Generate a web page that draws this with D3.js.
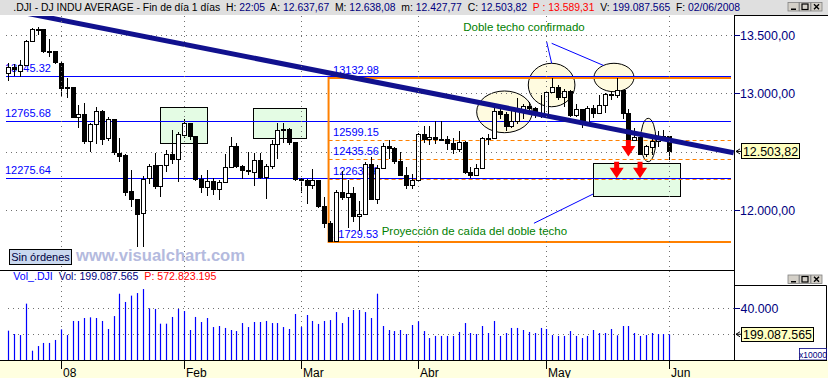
<!DOCTYPE html>
<html>
<head>
<meta charset="utf-8">
<title>.DJI - DJ INDU AVERAGE</title>
<script src="https://cdn.jsdelivr.net/npm/d3@7/dist/d3.min.js"></script>
<style>
body { margin: 0; background: #fff; }
svg { display: block; font-family: "Liberation Sans", Arial, sans-serif; }
</style>
</head>
<body>
<svg id="chart" width="828" height="378"></svg>
<script>
// Daily bars .DJI, 18/12/2007 .. 02/06/2008
var opens = [13172, 13226, 13195, 13240, 13450, 13549, 13550, 13360, 13366,
  13261, 13044, 13055, 12800, 12827, 12589, 12735, 12850, 12616, 12778, 12490, 12473, 12165, 12094, 11974, 12274, 12390, 12207, 12384, 12480, 12436,
  12644, 12743, 12635, 12265, 12200, 12247, 12182, 12240, 12373, 12552, 12377, 12348, 12330, 12427, 12284, 12381, 12570, 12684, 12694, 12582,
  12266, 12259, 12214, 12255, 12040, 11894, 11740, 12157, 12110, 12146, 11951, 11972, 12393, 12100, 12361, 12549, 12533, 12423, 12302, 12216,
  12263, 12654, 12609, 12626, 12609, 12612, 12576, 12527, 12582, 12325, 12302, 12362, 12619, 12620, 12849, 12825, 12720, 12763, 12849, 12892, 12872, 12831,
  12820, 13010, 13058, 12970, 13021, 12814, 12867, 12746, 12876, 12832, 12898, 12993, 12987, 13028, 12829, 12601, 12626, 12480, 12540, 12590, 12637,
  12637.67];
var highs = [13260, 13250, 13290, 13460, 13560, 13570, 13555, 13470, 13366,
  13275, 13130, 13055, 12900, 12920, 12750, 12880, 12855, 12800, 12780, 12619, 12480, 12345, 12100, 12290, 12400, 12493, 12390, 12520, 12687, 12670,
  12780, 12750, 12640, 12300, 12342, 12280, 12260, 12480, 12630, 12580, 12390, 12500, 12490, 12490, 12400, 12600, 12750, 12750, 12700, 12585,
  12280, 12265, 12350, 12260, 12110, 11910, 12170, 12340, 12260, 12200, 12080, 12410, 12460, 12390, 12580, 12600, 12540, 12500, 12370, 12310,
  12660, 12720, 12720, 12760, 12760, 12640, 12620, 12680, 12590, 12370, 12400, 12630, 12650, 12880, 12880, 12840, 12850, 12960, 12910, 12930, 12880, 12990,
  13020, 13135, 13070, 13040, 13030, 12910, 12870, 12890, 12900, 12990, 13000, 13010, 13136, 13030, 12870, 12700, 12640, 12560, 12630, 12680, 12690,
  12638.08];
var lows = [13110, 13150, 13140, 13240, 13440, 13500, 13350, 13310, 13250,
  12980, 12960, 12790, 12700, 12570, 12500, 12570, 12560, 12590, 12470, 12416, 12122, 12026, 11690, 11690, 12225, 12180, 12111, 12330, 12400, 12245,
  12620, 12600, 12250, 12150, 12120, 12130, 12085, 12235, 12370, 12360, 12270, 12300, 12210, 12270, 12100, 12350, 12440, 12580, 12560, 12250,
  12150, 12050, 12180, 12020, 11850, 11730, 11735, 12090, 11846, 11900, 11820, 11970, 12090, 12050, 12360, 12440, 12400, 12290, 12180, 12180,
  12262, 12580, 12560, 12570, 12600, 12520, 12480, 12500, 12310, 12280, 12290, 12360, 12560, 12620, 12780, 12680, 12700, 12740, 12780, 12850, 12790, 12790,
  12800, 13000, 12940, 12880, 12800, 12800, 12700, 12740, 12790, 12830, 12830, 12940, 12960, 12780, 12590, 12590, 12470, 12460, 12470, 12540, 12600,
  12427.77];
var closes = [13226, 13207, 13240, 13450, 13549, 13552, 13360, 13366, 13265,
  13044, 13057, 12800, 12827, 12589, 12735, 12853, 12606, 12778, 12501, 12466, 12159, 12099, 11971, 12270, 12379, 12207, 12384, 12480, 12443, 12650,
  12743, 12635, 12265, 12200, 12247, 12182, 12240, 12373, 12552, 12377, 12348, 12337, 12427, 12284, 12381, 12570, 12685, 12694, 12582, 12266,
  12259, 12214, 12255, 12040, 11894, 11740, 12157, 12110, 12146, 11951, 11972, 12393, 12100, 12361, 12549, 12533, 12423, 12302, 12216, 12263,
  12654, 12609, 12626, 12609, 12612, 12576, 12527, 12582, 12325, 12302, 12362, 12619, 12620, 12849, 12825, 12720, 12763, 12849, 12892, 12872, 12831, 12820,
  13010, 13058, 12970, 13021, 12814, 12867, 12746, 12876, 12832, 12898, 12993, 12987, 13028, 12829, 12601, 12626, 12480, 12548, 12590, 12637, 12638,
  12503.82];
// volume, x10000
var volumes = [22700, 20100, 19300, 43600, 7200, 10800, 13200, 13200, 15500,
  23700, 19300, 30200, 30200, 32500, 33000, 32500, 30200, 24000, 34000, 51300, 44900, 49800, 51800, 54900, 40000, 39500, 28100, 28100, 33300, 39500,
  37900, 23200, 33300, 29400, 32500, 25500, 26300, 24800, 23200, 22400, 28600, 25500, 29400, 29400, 30200, 28600, 28600, 25500, 24000, 35600,
  25500, 34800, 30200, 27900, 30200, 30900, 37100, 28600, 33300, 38700, 38700, 37100, 32500, 51300, 26300, 23200, 22400, 23200, 20100, 27100,
  29900, 22400, 17000, 18600, 18600, 18600, 18600, 21700, 28600, 20900, 20100, 26300, 20900, 30200, 18600, 20900, 24800, 24800, 23200, 21700, 20900, 24800,
  24000, 19300, 18600, 18600, 22400, 18600, 17000, 18600, 23200, 20900, 20900, 24000, 19100, 26300, 26300, 20900, 18600, 19300, 20900, 20100, 20100,
  19908.7565];

var monthIdx = [9, 30, 50, 70, 92, 113];
var monthLabels = ['08', 'Feb', 'Mar', 'Abr', 'May', 'Jun'];
var priceGrid = [12000, 12500, 13000, 13500];
var priceTicks = [12000, 13000, 13500];   // 12.500 sits under the last-price box
var volGrid = [20000, 40000];
var volTicks = [40000];

var levels = [13145.32, 12765.68, 12275.64];
var fibSolid = [13132.98, 11729.53];
var fibDashed = [12599.15, 12435.56, 12263.76];
var fibStart = 54.75;
var trend = [[0, 13717], [124, 12492]];
var boxes = [[25.93, 34.02, 12886, 12582], [41.88, 51.0, 12873, 12616], [100.0, 114.9, 12402, 12116]];
var ellipses = [[80.07, 89.57, 13021, 12664], [88.89, 96.87, 13258, 12886], [100.12, 106.96, 13258, 13015], [108.1, 110.7, 12787, 12416]];
var pointers = [[92.03, 13443, 92.89, 13258], [92.89, 13429, 101.78, 13239], [89.86, 11889, 100.0, 12140]];
var arrows = [[106, 12601], [104, 12416], [108, 12416]];
var notes = [['Doble techo confirmado', 77.78, 13532], ['Proyección de caída del doble techo', 63.83, 11791]];

var es = d3.formatLocale({decimal: ',', thousands: '.', grouping: [3], currency: ['', '']});
var fmt2 = es.format(',.2f'), fmt0 = es.format(',.0f');

var svg = d3.select('#chart');
var n = closes.length - 1;
var x = d3.scaleLinear().domain([0, 113]).range([8.3, 669.3]);
var y = d3.scaleLinear().domain([12000, 13500]).range([210.3, 35]);
var yv = d3.scaleLinear().domain([0, 40000]).range([360, 308.3]);
var px = function(v) { return Math.round(v) + 0.5; };

svg.append('rect').attr('width', 828).attr('height', 378).attr('fill', '#fff');

// header bar
svg.append('rect').attr('width', 828).attr('height', 15).attr('fill', '#dfdfdf');
var head = [
  ['.DJI - DJ INDU AVERAGE - Fin de día 1 días  H: ', '#000'], ['22:05', '#000080'],
  ['  A: ', '#000'], [fmt2(opens[n]), '#000080'],
  ['  M: ', '#000'], [fmt2(highs[n]), '#000080'],
  ['  m: ', '#000'], [fmt2(lows[n]), '#000080'],
  ['  C: ', '#000'], [fmt2(closes[n]), '#000080'],
  ['  ', '#000'], ['P : 13.589,31', '#ff0000'],
  ['  V: ', '#000'], [fmt0(volumes[n] * 10000), '#000080'],
  ['  F: ', '#000'], ['02/06/2008', '#000080']
];
function fitText(sel, parts, x0, base, width, size) {
  var t = sel.append('text').attr('y', base).attr('font-size', size).style('white-space', 'pre');
  parts.forEach(function(p) { t.append('tspan').attr('fill', p[1]).text(p[0]); });
  var w = t.node().getComputedTextLength();
  t.attr('transform', 'translate(' + x0 + ',0) scale(' + (width / w) + ',1)');
  return t;
}
fitText(svg, head, 13.3, 11.5, 727.4, 11);

function winButtons(y0) {
  var g = svg.append('g');
  [788, 799.5, 811].forEach(function(bx, k) {
    g.append('rect').attr('x', bx).attr('y', y0).attr('width', 11).attr('height', 8.5)
      .attr('fill', '#d4d0c8').attr('stroke', '#808080').attr('stroke-width', 0.8);
    if (k === 0) g.append('rect').attr('x', bx + 3).attr('y', y0 + 6).attr('width', 5).attr('height', 1.5).attr('fill', '#000');
    if (k === 1) g.append('rect').attr('x', bx + 2.5).attr('y', y0 + 1.5).attr('width', 6).attr('height', 5.5)
      .attr('fill', 'none').attr('stroke', '#000').attr('stroke-width', 1.2);
    if (k === 2) g.append('path').attr('d', 'M' + (bx + 3) + ',' + (y0 + 1.8) + 'L' + (bx + 8) + ',' + (y0 + 6.8) +
      'M' + (bx + 8) + ',' + (y0 + 1.8) + 'L' + (bx + 3) + ',' + (y0 + 6.8)).attr('stroke', '#000').attr('stroke-width', 1.4);
  });
}
winButtons(2.5);

// main price panel
svg.append('clipPath').attr('id', 'clipMain').append('rect')
  .attr('x', 0).attr('y', 16).attr('width', 734).attr('height', 254);
var main = svg.append('g').attr('clip-path', 'url(#clipMain)');

boxes.forEach(function(b) {
  main.append('rect').attr('x', px(x(b[0]))).attr('y', px(y(b[2])))
    .attr('width', Math.round(x(b[1]) - x(b[0]))).attr('height', Math.round(y(b[3]) - y(b[2])))
    .attr('fill', '#e4fce4').attr('stroke', '#000').attr('stroke-width', 1);
});
ellipses.forEach(function(e) {
  main.append('ellipse').attr('cx', (x(e[0]) + x(e[1])) / 2).attr('cy', (y(e[2]) + y(e[3])) / 2)
    .attr('rx', (x(e[1]) - x(e[0])) / 2).attr('ry', (y(e[3]) - y(e[2])) / 2)
    .attr('fill', '#fffbe0').attr('stroke', '#000').attr('stroke-width', 1);
});

// dotted grid
main.selectAll('.hg').data(priceGrid).enter().append('line')
  .attr('x1', 6).attr('x2', 734).attr('y1', function(d) { return px(y(d)); }).attr('y2', function(d) { return px(y(d)); })
  .attr('stroke', '#707070').attr('stroke-dasharray', '1,4');
svg.selectAll('.vg').data(monthIdx).enter().append('line')
  .attr('x1', function(d) { return px(x(d)); }).attr('x2', function(d) { return px(x(d)); })
  .attr('y1', 16).attr('y2', 360)
  .attr('stroke', '#707070').attr('stroke-dasharray', '1,4');

// horizontal levels
levels.forEach(function(v) {
  main.append('line').attr('x1', 6).attr('x2', 731).attr('y1', px(y(v))).attr('y2', px(y(v)))
    .attr('stroke', '#0000ff').attr('stroke-width', 1);
  main.append('text').attr('x', 5).attr('y', y(v) - 4).attr('font-size', 11).attr('fill', '#0000ff').text(v.toFixed(2));
});

// retracement tool
var fx = x(fibStart);
fibDashed.forEach(function(v) {
  main.append('line').attr('x1', fx).attr('x2', 731).attr('y1', px(y(v))).attr('y2', px(y(v)))
    .attr('stroke', '#ff8000').attr('stroke-dasharray', '4,3');
});
fibSolid.forEach(function(v) {
  main.append('line').attr('x1', fx).attr('x2', 731).attr('y1', y(v)).attr('y2', y(v))
    .attr('stroke', '#ff8000').attr('stroke-width', 2);
});
main.append('line').attr('x1', fx).attr('x2', fx).attr('y1', y(fibSolid[0]) - 1).attr('y2', y(fibSolid[1]) + 1)
  .attr('stroke', '#ff8000').attr('stroke-width', 2);
fibSolid.concat(fibDashed).forEach(function(v) {
  main.append('text').attr('x', fx + 4.5).attr('y', y(v) - 4).attr('font-size', 11).attr('fill', '#0000ff').text(v.toFixed(2));
});

// candles
var bars = d3.range(closes.length);
var cg = main.append('g').attr('shape-rendering', 'crispEdges');
bars.forEach(function(i) {
  var cx = Math.round(x(i));
  var top = y(Math.max(opens[i], closes[i])), bot = y(Math.min(opens[i], closes[i]));
  cg.append('line').attr('x1', cx + 0.5).attr('x2', cx + 0.5).attr('y1', Math.round(y(highs[i])))
    .attr('y2', Math.round(y(lows[i]))).attr('stroke', '#000');
  cg.append('rect').attr('x', cx - 1.5).attr('y', Math.round(top) + 0.5)
    .attr('width', 4).attr('height', Math.max(1, Math.round(bot) - Math.round(top)))
    .attr('fill', closes[i] >= opens[i] ? '#fff' : '#000').attr('stroke', '#000');
});

// trend line
main.append('line').attr('x1', x(trend[0][0])).attr('y1', y(trend[0][1]))
  .attr('x2', x(trend[1][0])).attr('y2', y(trend[1][1]))
  .attr('stroke', '#11118e').attr('stroke-width', 5);

pointers.forEach(function(p) {
  main.append('line').attr('x1', x(p[0])).attr('y1', y(p[1])).attr('x2', x(p[2])).attr('y2', y(p[3]))
    .attr('stroke', '#0000ff').attr('stroke-width', 1);
});
notes.forEach(function(t) {
  main.append('text').attr('x', x(t[1])).attr('y', y(t[2])).attr('font-size', 11.5).attr('fill', '#008000').text(t[0]);
});
arrows.forEach(function(a) {
  var ax = x(a[0]), ay = y(a[1]);
  main.append('path').attr('fill', '#ff0000')
    .attr('d', 'M' + (ax - 2.5) + ',' + ay + 'H' + (ax + 2.5) + 'V' + (ay + 6) + 'H' + (ax + 7) +
      'L' + ax + ',' + (ay + 16.5) + 'L' + (ax - 7) + ',' + (ay + 6) + 'H' + (ax - 2.5) + 'Z');
});

// watermark + order box
svg.append('text').attr('font-size', 16).attr('font-weight', 'bold').attr('fill', '#b4bade')
  .attr('x', 76).attr('y', 261).attr('textLength', 169).attr('lengthAdjust', 'spacingAndGlyphs')
  .text('www.visualchart.com');
svg.append('rect').attr('x', 9.5).attr('y', 249.5).attr('width', 62).attr('height', 15)
  .attr('fill', '#c9d8ef').attr('stroke', '#000');
svg.append('text').attr('x', 40.5).attr('y', 261).attr('text-anchor', 'middle').attr('font-size', 11)
  .attr('fill', '#000040').text('Sin órdenes');

// right price axis
svg.append('path').attr('d', 'M734.5,15V360M734,15.5H828').attr('stroke', '#000').attr('fill', 'none');
priceTicks.forEach(function(v) {
  svg.append('line').attr('x1', 734).attr('x2', 740).attr('y1', px(y(v))).attr('y2', px(y(v))).attr('stroke', '#000080');
  svg.append('text').attr('x', 740).attr('y', y(v) + 4.5).attr('font-size', 12.4).attr('fill', '#000080').text(fmt2(v));
});
var ly = y(closes[n]);
svg.append('path').attr('d', 'M740,' + (ly - 2.5) + 'L736,' + ly + 'L740,' + (ly + 2.5) + 'M736,' + ly + 'H741')
  .attr('stroke', '#000').attr('fill', 'none');
svg.append('rect').attr('x', 741.5).attr('y', Math.round(ly - 8) + 0.5).attr('width', 58).attr('height', 15)
  .attr('fill', '#ffffc0').attr('stroke', '#000');
svg.append('text').attr('x', 770.5).attr('y', ly + 4.5).attr('text-anchor', 'middle').attr('font-size', 12.4)
  .attr('fill', '#000').text(fmt2(closes[n]));

// volume panel
svg.append('line').attr('x1', 0).attr('x2', 734).attr('y1', 270.5).attr('y2', 270.5).attr('stroke', '#000');
fitText(svg, [['Vol_.DJI', '#0000ff'], ['  Vol: ', '#000080'], [fmt0(volumes[n] * 10000), '#000080'],
  ['  P: 572.823.195', '#ff0000']], 13.3, 280.5, 203.4, 11);
volGrid.forEach(function(v) {
  svg.append('line').attr('x1', 8).attr('x2', 734).attr('y1', px(yv(v))).attr('y2', px(yv(v)))
    .attr('stroke', '#707070').attr('stroke-dasharray', '1,4');
});
svg.append('g').selectAll('line').data(bars).enter().append('line')
  .attr('x1', function(i) { return Math.round(x(i)) + 0.5; }).attr('x2', function(i) { return Math.round(x(i)) + 0.5; })
  .attr('y1', yv(0)).attr('y2', function(i) { return yv(volumes[i]); })
  .attr('stroke', '#0000ff').attr('stroke-width', 1.2);
svg.append('path').attr('d', 'M734,285.5H826.5V360').attr('stroke', '#000').attr('fill', 'none');
winButtons(275);
volTicks.forEach(function(v) {
  svg.append('line').attr('x1', 734).attr('x2', 740).attr('y1', px(yv(v))).attr('y2', px(yv(v))).attr('stroke', '#000080');
  svg.append('text').attr('x', 740.5).attr('y', yv(v) + 4.5).attr('font-size', 12.4).attr('fill', '#000080').text(fmt0(v));
});
var vy = yv(volumes[n]);
svg.append('path').attr('d', 'M740,' + (vy - 2.5) + 'L736,' + vy + 'L740,' + (vy + 2.5) + 'M736,' + vy + 'H741')
  .attr('stroke', '#000').attr('fill', 'none');
svg.append('rect').attr('x', 741.5).attr('y', Math.round(vy - 7) + 0.5).attr('width', 72).attr('height', 14)
  .attr('fill', '#ffffc0').attr('stroke', '#000');
svg.append('text').attr('x', 777.5).attr('y', vy + 4.5).attr('text-anchor', 'middle').attr('font-size', 12.4)
  .attr('fill', '#000').text(fmt0(volumes[n] * 10000));
svg.append('rect').attr('x', 799.5).attr('y', 348.5).attr('width', 27).attr('height', 11.5)
  .attr('fill', '#fff').attr('stroke', '#000080').attr('stroke-width', 0.8);
svg.append('text').attr('x', 813).attr('y', 357.5).attr('text-anchor', 'middle').attr('font-size', 8.5)
  .attr('fill', '#000080').text('x10000');

// date axis
svg.append('rect').attr('x', 0).attr('y', 360).attr('width', 828).attr('height', 18).attr('fill', '#ffffe0');
svg.append('line').attr('x1', 0).attr('x2', 827).attr('y1', 360.5).attr('y2', 360.5).attr('stroke', '#000');
monthIdx.forEach(function(d, k) {
  var mx = px(x(d));
  svg.append('line').attr('x1', mx).attr('x2', mx).attr('y1', 360).attr('y2', 369).attr('stroke', '#000');
  svg.append('text').attr('x', mx + 1.5).attr('y', 376.5).attr('font-size', 12).attr('fill', '#000').text(monthLabels[k]);
});
</script>
</body>
</html>
